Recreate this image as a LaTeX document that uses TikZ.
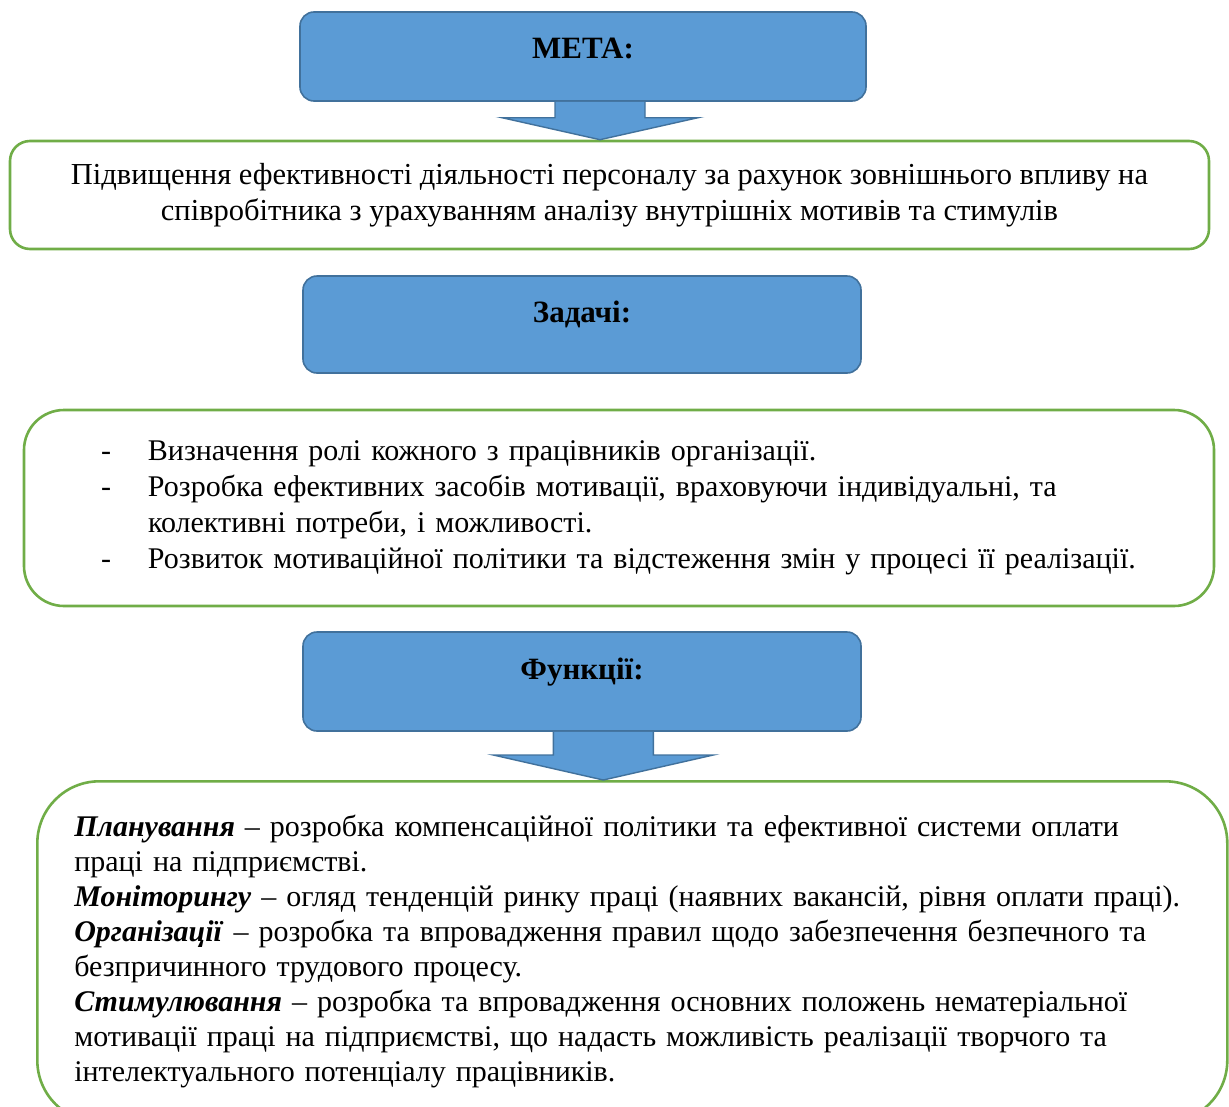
\documentclass[tikz,border=0pt]{standalone}
\usepackage{fontspec}
\setmainfont{Liberation Serif}
\usetikzlibrary{calc}
\definecolor{headblue}{HTML}{5B9BD5}
\definecolor{headline}{HTML}{41719C}
\definecolor{boxgreen}{HTML}{70AD47}
\newcommand{\itm}[1]{\mbox{\makebox[47pt][l]{-}#1}}
\newcommand{\fln}[1]{\mbox{#1}}

\begin{document}
\begin{tikzpicture}[x=1pt, y=-1pt,
      head/.style={rounded corners=14pt, fill=headblue, draw=headline, line width=1.6pt,
                   text height=22pt, text depth=26pt, inner sep=0pt,
                   font=\fontsize{31}{36}\selectfont\bfseries},
      goalbox/.style={rounded corners=20pt, fill=white, draw=boxgreen, line width=2.6pt,
                      minimum width=1199pt, minimum height=108pt, align=center,
                      font=\fontsize{30.5}{36}\selectfont},
      listbox/.style={rounded corners=40pt, fill=white, draw=boxgreen, line width=2.6pt,
                      minimum width=1190pt, minimum height=196pt, text width=1036pt,
                      inner xsep=77pt, align=left, font=\fontsize{30}{36}\selectfont},
      funcbox/.style={rounded corners=62pt, fill=white, draw=boxgreen, line width=2.6pt,
                      text width=1116pt, inner xsep=37pt, inner ysep=34pt,
                      align=left, font=\fontsize{30}{35}\selectfont},
      blockarr/.style={fill=headblue, draw=headline, line width=1.4pt, line join=miter},
    ]
    \useasboundingbox (0,0) rectangle (1229,1106);
    \clip (0,0) rectangle (1229,1106);

    \node[head, minimum width=566pt, minimum height=89pt, text depth=19pt] (meta) at (583,56.5) {МЕТА:};
    \node[goalbox] (goal) at (609.5,195)
      {Підвищення ефективності діяльності персоналу за рахунок зовнішнього впливу на\\
       співробітника з урахуванням аналізу внутрішніх мотивів та стимулів};

    \node[head, minimum width=558pt, minimum height=97pt] (tasks) at (582,324.5) {Задачі:};
    \node[listbox] (list) at (619,508)
      {\itm{Визначення ролі кожного з працівників організації.}\\
       \itm{Розробка ефективних засобів мотивації, враховуючи індивідуальні, та}\\
       \hspace*{47pt}колективні потреби, і можливості.\\
       \itm{Розвиток мотиваційної політики та відстеження змін у процесі її реалізації.}};

    \node[head, minimum width=558pt, minimum height=99pt] (func) at (582,681.5) {Функції:};
    \node[funcbox, anchor=north west] (flist) at (36,780)
      {\fln{\textbf{\textit{Планування}} – розробка компенсаційної політики та ефективної системи оплати}\\
       праці на підприємстві.\\
       \fln{\textbf{\textit{Моніторингу}} – огляд тенденцій ринку праці (наявних вакансій, рівня оплати праці).}\\
       \fln{\textbf{\textit{Організації}} – розробка та впровадження правил щодо забезпечення безпечного та}\\
       безпричинного трудового процесу.\\
       \fln{\textbf{\textit{Стимулювання}} – розробка та впровадження основних положень нематеріальної}\\
       \fln{мотивації праці на підприємстві, що надасть можливість реалізації творчого та}\\
       інтелектуального потенціалу працівників.};

    % block arrows
    \coordinate (tip1) at ($(goal.north)+(-9.5,0)$);
    \coordinate (tip2) at ($(flist.north)+(-29,0)$);
    \draw[blockarr] ($(meta.south -| tip1)+(-45,0)$) |- ($(tip1)+(-98,-22)$) -- (tip1)
      -- ($(tip1)+(98,-22)$) -| ($(meta.south -| tip1)+(45,0)$);
    \draw[blockarr] ($(func.south -| tip2)+(-50,0)$) |- ($(tip2)+(-110,-25)$) -- (tip2)
      -- ($(tip2)+(110,-25)$) -| ($(func.south -| tip2)+(50,0)$);
  \end{tikzpicture}
\end{document}
